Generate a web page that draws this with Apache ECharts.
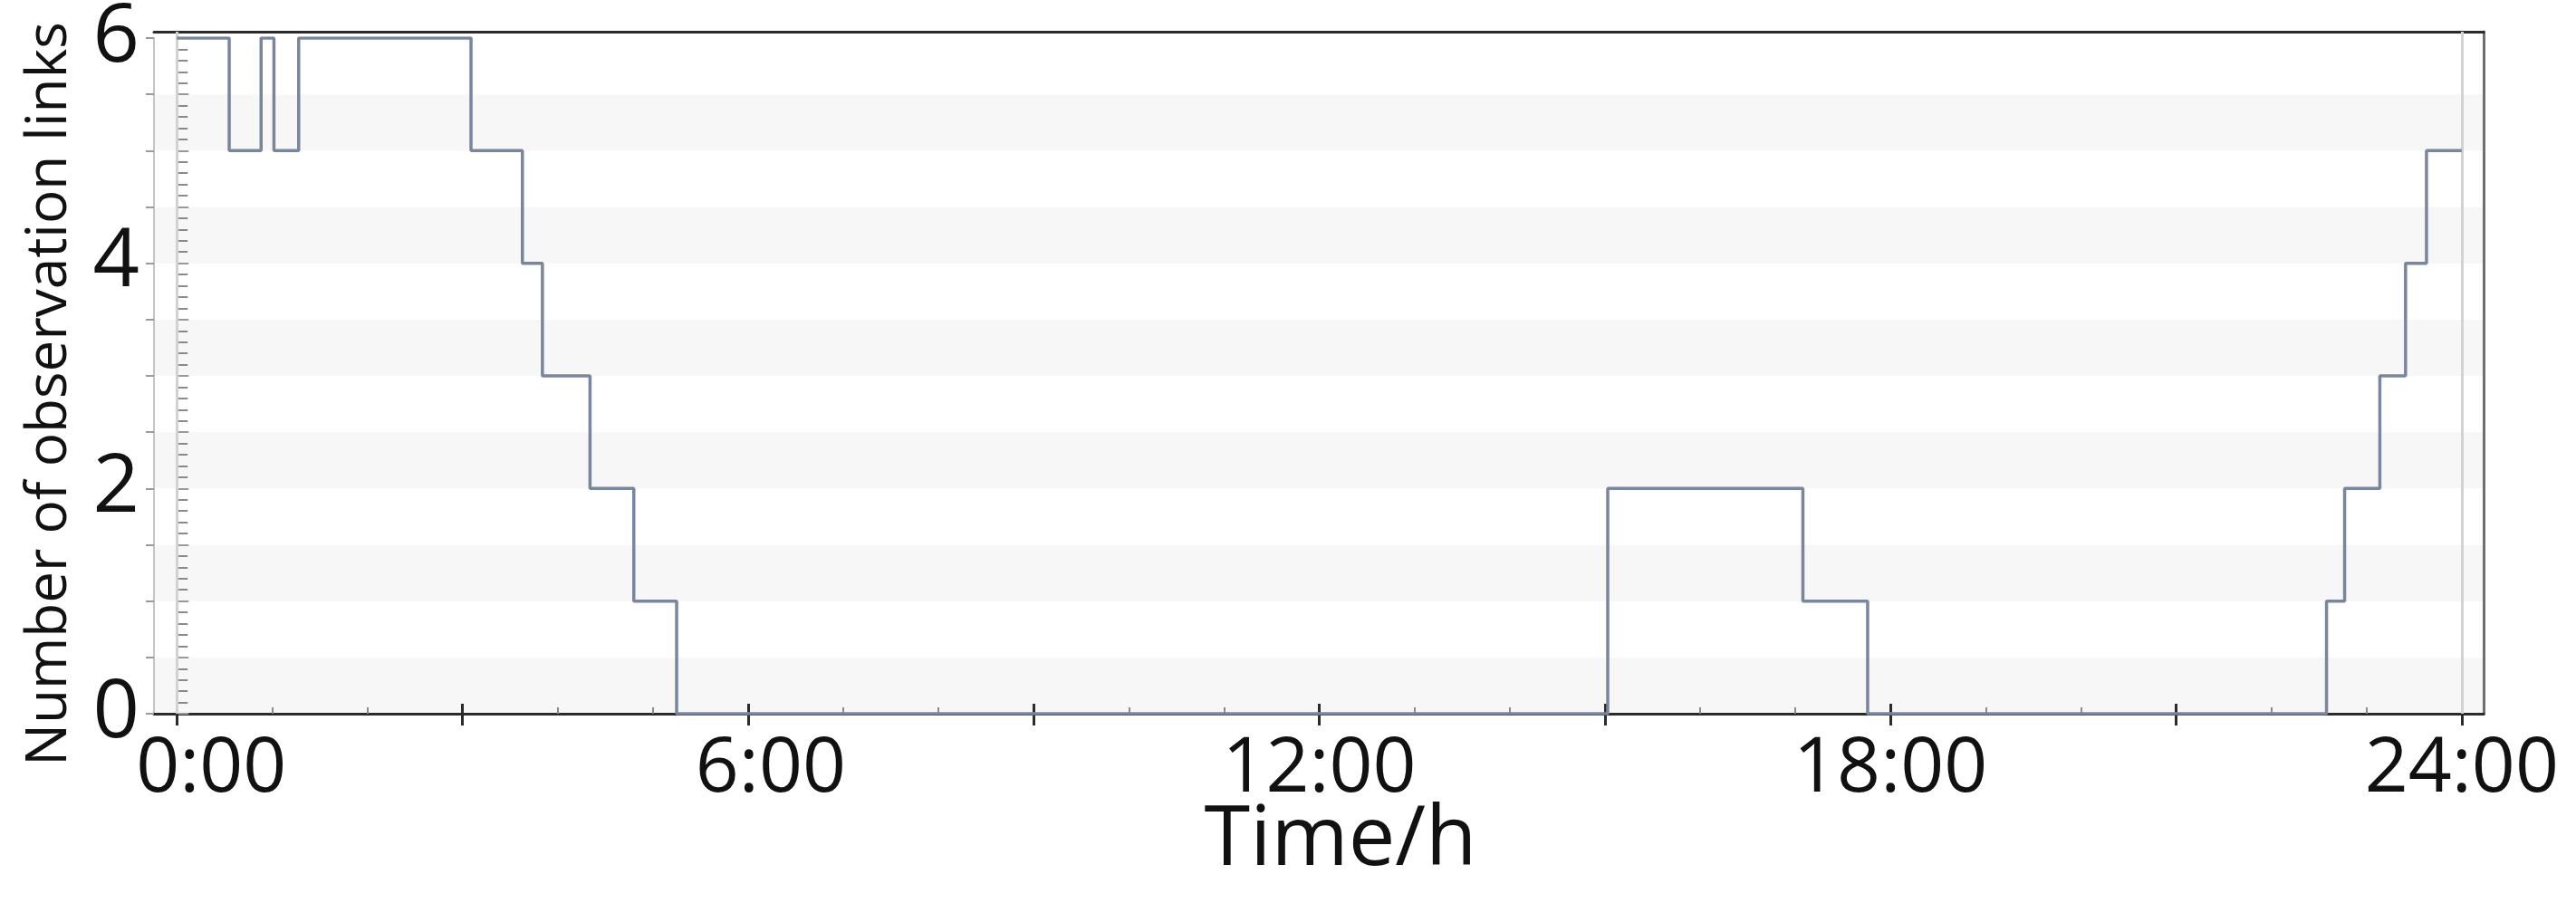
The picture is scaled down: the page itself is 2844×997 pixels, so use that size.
<!DOCTYPE html>
<html>
<head>
<meta charset="utf-8">
<script src="https://cdn.jsdelivr.net/npm/echarts@6/dist/echarts.min.js"></script>
<style>
  html, body { margin: 0; padding: 0; background: #fff; }
  #main { width: 2844px; height: 997px; }
</style>
</head>
<body>
<div id="main"></div>
<script>
// time (h) at which the count changes, and the count from then on
var times = [0, 0.55, 0.885, 1.02, 1.28, 3.09, 3.63, 3.84, 4.34, 4.80, 5.25, 15.03, 17.08, 17.76, 22.58, 22.77, 23.14, 23.41, 23.63, 24];
var links = [6, 5, 6, 5, 6, 5, 4, 3, 2, 1, 0, 2, 1, 0, 1, 2, 3, 4, 5, 5];

// axis ticks / labels
var majorTicks = [0, 3, 6, 9, 12, 15, 18, 21, 24];
var hourTicks = [0, 1, 2, 3, 4, 5, 6, 7, 8, 9, 10, 11, 12, 13, 14, 15, 16, 17, 18, 19, 20, 21, 22, 23, 24];
var timeLabels = [0, 6, 12, 18, 24];
var countLabels = [0, 2, 4, 6];
var dayEdges = [0, 24];

var XMIN = -0.24, XMAX = 24.23;
var FONT = '"Open Sans", "Noto Sans", sans-serif';

var myChart = echarts.init(document.getElementById("main"));

var seriesData = times.map(function (t, i) {
  return [t, links[i]];
});

var option = {
  animation: false,
  backgroundColor: "#fff",
  grid: [
    // outer frame (top + right border)
    { left: 170, right: 102, top: 35, bottom: 209, outerBoundsMode: "none" },
    // plotting area
    { left: 170, right: 102, top: 42, bottom: 209, outerBoundsMode: "none" }
  ],
  xAxis: [
    {
      type: "value",
      gridIndex: 1,
      position: "bottom",
      min: XMIN,
      max: XMAX,
      splitLine: { show: false },
      axisLine: { show: true, onZero: false, lineStyle: { color: "#2b2b2b", width: 3 } },
      axisTick: {
        show: true,
        inside: false,
        length: 13,
        customValues: majorTicks,
        lineStyle: { color: "#2b2b2b", width: 3 }
      },
      axisLabel: {
        customValues: timeLabels,
        margin: 20,
        fontSize: 84,
        fontFamily: FONT,
        color: "#111",
        formatter: function (v) {
          var s = v + ":00";
          if (v === 0) return "{first|" + s + "}";
          if (v === 6) return "{second|" + s + "}";
          return s;
        },
        rich: {
          first: { fontSize: 84, fontFamily: FONT, color: "#111", padding: [0, 0, 0, 76] },
          second: { fontSize: 84, fontFamily: FONT, color: "#111", padding: [0, 0, 0, 50] }
        }
      },
      name: "Time/h",
      nameLocation: "middle",
      nameGap: 95,
      nameMoveOverlap: false,
      nameTextStyle: { fontSize: 92, fontFamily: FONT, color: "#111", padding: [0, 0, 0, 48] }
    },
    {
      // hourly inner ticks
      type: "value",
      gridIndex: 1,
      position: "bottom",
      min: XMIN,
      max: XMAX,
      splitLine: { show: false },
      axisLine: { show: false },
      axisLabel: { show: false },
      axisTick: {
        show: true,
        inside: true,
        length: 7,
        customValues: hourTicks,
        lineStyle: { color: "#8a8a8a", width: 2 }
      }
    },
    {
      // 3-hourly inner ticks
      type: "value",
      gridIndex: 1,
      position: "bottom",
      min: XMIN,
      max: XMAX,
      splitLine: { show: false },
      axisLine: { show: false },
      axisLabel: { show: false },
      axisTick: {
        show: true,
        inside: true,
        length: 11,
        customValues: majorTicks,
        lineStyle: { color: "#2b2b2b", width: 3 }
      }
    },
    {
      // top border
      type: "value",
      gridIndex: 0,
      position: "top",
      min: XMIN,
      max: XMAX,
      splitLine: { show: false },
      axisLine: { show: true, onZero: false, lineStyle: { color: "#2b2b2b", width: 3 } },
      axisTick: { show: false },
      axisLabel: { show: false }
    }
  ],
  yAxis: [
    {
      type: "value",
      gridIndex: 1,
      position: "left",
      min: 0,
      max: 6,
      interval: 0.5,
      axisLine: { show: true, onZero: false, lineStyle: { color: "#c4c4c4", width: 2 } },
      axisTick: { show: true, inside: false, length: 9, lineStyle: { color: "#9a9a9a", width: 2 } },
      axisLabel: {
        margin: 16,
        fontSize: 90,
        fontFamily: FONT,
        color: "#111",
        formatter: function (v) {
          return countLabels.indexOf(v) >= 0 ? String(v) : "";
        }
      },
      splitLine: { show: false },
      splitArea: { show: true, areaStyle: { color: ["#f7f7f7", "#ffffff"] } },
      name: "Number of observation links",
      nameLocation: "middle",
      nameRotate: 90,
      nameGap: 84,
      nameMoveOverlap: false,
      nameTextStyle: { fontSize: 62, fontFamily: FONT, color: "#111", padding: [0, 40, 0, 0] }
    },
    {
      // inner ticks with minor ticks
      type: "value",
      gridIndex: 1,
      position: "left",
      min: 0,
      max: 6,
      interval: 0.5,
      axisLine: { show: false },
      axisLabel: { show: false },
      splitLine: { show: false },
      axisTick: { show: true, inside: true, length: 13, lineStyle: { color: "#9a9a9a", width: 2 } },
      minorTick: { show: true, splitNumber: 5, length: 12, lineStyle: { color: "#8a8a8a", width: 2 } }
    },
    {
      // right border
      type: "value",
      gridIndex: 0,
      position: "right",
      min: 0,
      max: 6,
      axisLine: { show: true, onZero: false, lineStyle: { color: "#6f6f6f", width: 3 } },
      axisTick: { show: false },
      axisLabel: { show: false },
      splitLine: { show: false }
    }
  ],
  series: [
    {
      // light vertical lines at start and end of the day
      type: "line",
      xAxisIndex: 3,
      yAxisIndex: 2,
      data: [],
      silent: true,
      markLine: {
        symbol: "none",
        silent: true,
        label: { show: false },
        lineStyle: { color: "#d2d2d2", width: 3, type: "solid" },
        data: dayEdges.map(function (d) {
          return { xAxis: d };
        })
      }
    },
    {
      name: "links",
      type: "line",
      xAxisIndex: 0,
      yAxisIndex: 0,
      step: "end",
      symbol: "none",
      data: seriesData,
      lineStyle: { color: "#7a869e", width: 3.5 },
      z: 5
    }
  ]
};

myChart.setOption(option);
</script>
</body>
</html>
